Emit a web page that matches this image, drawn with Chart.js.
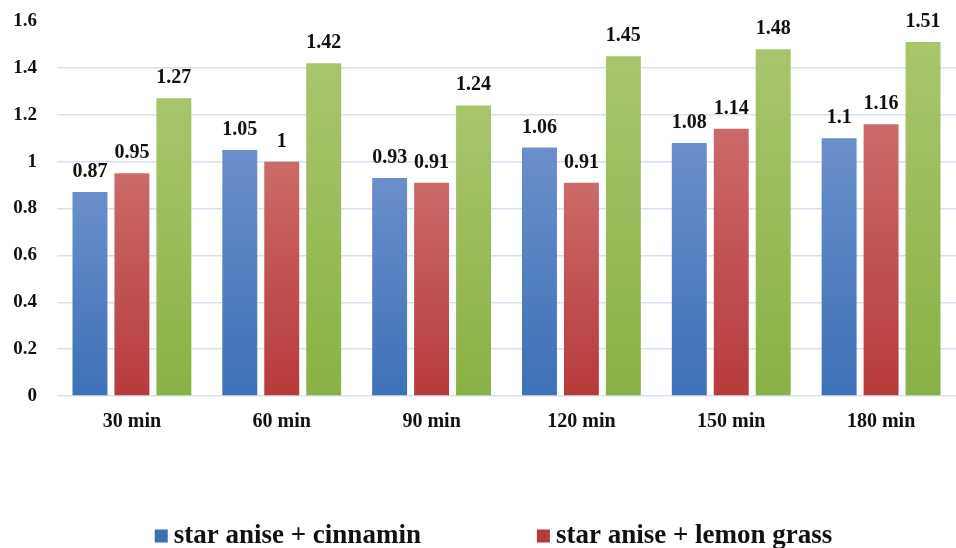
<!DOCTYPE html>
<html>
<head>
<meta charset="utf-8">
<script src="https://cdn.jsdelivr.net/npm/chart.js@4/dist/chart.umd.min.js"></script>
<style>
html,body{margin:0;padding:0;background:#fff;overflow:hidden;}
#wrap{position:relative;width:956px;height:548px;}
</style>
</head>
<body>
<div id="wrap"><canvas id="c"></canvas></div>
<script>
const categories = ["30 min", "60 min", "90 min", "120 min", "150 min", "180 min"];
const seriesNames = ["star anise + cinnamin", "star anise + lemon grass", "star anise + cinnamin + lemon grass"];
const cinnamin = [0.87, 1.05, 0.93, 1.06, 1.08, 1.1];
const lemonGrass = [0.95, 1, 0.91, 0.91, 1.14, 1.16];
const combined = [1.27, 1.42, 1.24, 1.45, 1.48, 1.51];
const yTicks = [0, 0.2, 0.4, 0.6, 0.8, 1, 1.2, 1.4, 1.6];

const FONT = "'Liberation Serif', 'Times New Roman', 'DejaVu Serif', serif";
const palettes = [
  ["#6a8fcb", "#3d71b6"],
  ["#cb6b69", "#b73a3a"],
  ["#a9c56c", "#8ab145"]
];

function grad(idx) {
  return function(context) {
    const chart = context.chart;
    const y = chart.scales && chart.scales.y;
    if (!y || context.raw === undefined) return palettes[idx][1];
    const top = y.getPixelForValue(context.raw);
    const base = y.getPixelForValue(0);
    if (!isFinite(top) || !isFinite(base) || top === base) return palettes[idx][1];
    const g = chart.ctx.createLinearGradient(0, top, 0, base);
    g.addColorStop(0, palettes[idx][0]);
    g.addColorStop(1, palettes[idx][1]);
    return g;
  };
}

const valueLabels = {
  id: 'valueLabels',
  afterDatasetsDraw(chart) {
    const ctx = chart.ctx;
    ctx.save();
    ctx.font = "bold 20px " + FONT;
    ctx.fillStyle = "#111";
    ctx.textAlign = "center";
    ctx.textBaseline = "alphabetic";
    chart.data.datasets.forEach((ds, i) => {
      const meta = chart.getDatasetMeta(i);
      meta.data.forEach((bar, j) => {
        ctx.fillText(String(ds.data[j]), bar.x, bar.y - 15);
      });
    });
    ctx.restore();
  }
};

// Bottom legend: square swatch + label, items separated by a wide gap; rows wrap.
const bottomLegend = {
  id: 'bottomLegend',
  afterDraw(chart) {
    const ctx = chart.ctx;
    const box = 13, boxGap = 6, itemGap = 116, fontSize = 27;
    ctx.save();
    ctx.font = "bold " + fontSize + "px " + FONT;
    ctx.textBaseline = "middle";
    ctx.textAlign = "left";
    const items = chart.data.datasets.map((ds, i) => ({
      text: ds.label,
      color: palettes[i][1],
      w: box + boxGap + ctx.measureText(ds.label).width
    }));
    const rows = [[]];
    let rowW = 0;
    const maxW = chart.width - 40;
    items.forEach(it => {
      const add = (rows[rows.length - 1].length ? itemGap : 0) + it.w;
      if (rows[rows.length - 1].length && rowW + add > maxW) {
        rows.push([it]); rowW = it.w;
      } else {
        rows[rows.length - 1].push(it); rowW += add;
      }
    });
    let y = chart.chartArea.bottom + 139;
    rows.forEach(row => {
      const total = row.reduce((s, it, k) => s + it.w + (k ? itemGap : 0), 0);
      let x = (chart.chartArea.left + chart.width) / 2 - 13 - total / 2;
      row.forEach(it => {
        ctx.fillStyle = it.color;
        ctx.fillRect(x, y - box / 2 + 1, box, box);
        ctx.fillStyle = "#111";
        ctx.fillText(it.text, x + box + boxGap, y + 1);
        x += it.w + itemGap;
      });
      y += fontSize + 14;
    });
    ctx.restore();
  }
};

new Chart(document.getElementById('c'), {
  type: 'bar',
  data: {
    labels: categories,
    datasets: [
      { label: seriesNames[0], data: cinnamin, backgroundColor: grad(0) },
      { label: seriesNames[1], data: lemonGrass, backgroundColor: grad(1) },
      { label: seriesNames[2], data: combined, backgroundColor: grad(2) }
    ]
  },
  options: {
    responsive: true,
    maintainAspectRatio: false,
    animation: false,
    devicePixelRatio: 1,
    layout: { padding: { top: 21, left: 0, right: 0, bottom: 112 } },
    datasets: { bar: { categoryPercentage: 0.84, barPercentage: 0.833 } },
    plugins: {
      tooltip: { enabled: false },
      legend: { display: false }
    },
    scales: {
      x: {
        grid: { display: false, drawTicks: false },
        border: { display: false },
        ticks: { font: { family: FONT, size: 20, weight: 'bold' }, color: '#111', padding: 14 },
        afterFit(scale) { scale.height = 40; }
      },
      y: {
        min: 0,
        max: 1.6,
        afterBuildTicks(scale) { scale.ticks = yTicks.map(v => ({ value: v })); },
        grid: {
          drawTicks: true,
          tickLength: 20,
          tickColor: 'rgba(0,0,0,0)',
          lineWidth: 1.5,
          color(ctx) { return ctx.tick && ctx.tick.value >= 1.6 ? 'rgba(0,0,0,0)' : '#d5e1f0'; }
        },
        border: { display: false },
        ticks: {
          font: { family: FONT, size: 19, weight: 'bold' },
          color: '#111',
          padding: 0,
          callback(v) { return String(Math.round(v * 10) / 10); }
        },
        afterFit(scale) { scale.width = 57; }
      }
    }
  },
  plugins: [valueLabels, bottomLegend]
});
</script>
</body>
</html>
